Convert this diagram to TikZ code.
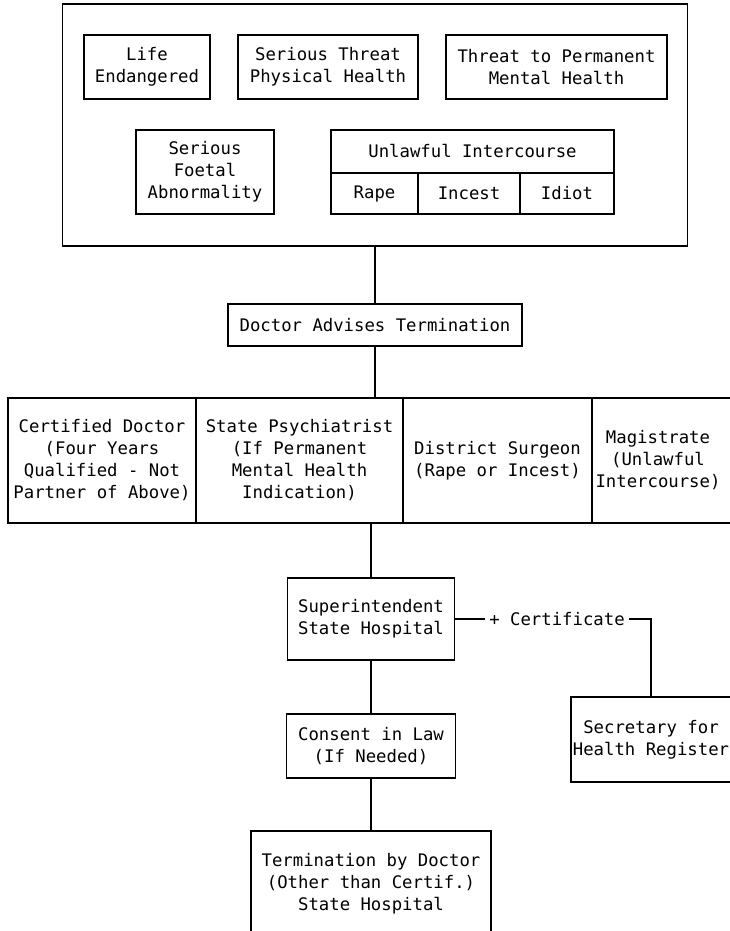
\documentclass[tikz,border=0pt]{standalone}
\usepackage{fontspec}
\newfontfamily\typewriter{DejaVu Sans Mono}

\begin{document}
\begin{tikzpicture}[x=1pt, y=-1pt, line width=1.1pt,
   box/.style = {draw, inner sep=0pt, outer sep=0pt, align=center,
                 font=\typewriter\fontsize{17.3}{22}\selectfont},
   plain/.style = {inner sep=4pt, font=\typewriter\fontsize{17.3}{22}\selectfont}]
   \useasboundingbox (0,0) rectangle (730,931);

   % grounds for termination
   \node[box, minimum width=625, minimum height=242] (grounds) at (375,125) {};
   \node[box, minimum width=126, minimum height=64] (life) at (147,67) {Life\\Endangered};
   \node[box, minimum width=180, minimum height=64] (physical) at (328,67) {Serious Threat\\Physical Health};
   \node[box, minimum width=221, minimum height=64] (mental) at (556.5,67) {Threat to Permanent\\Mental Health};
   \node[box, minimum width=138, minimum height=84] (foetal) at (205,172) {Serious\\Foetal\\Abnormality};
   \node[box, minimum width=283, minimum height=43] (unlawful) at (472.5,151.5) {Unlawful Intercourse};
   \node[box, minimum width=87, minimum height=41] (rape) at (374.5,193.5) {Rape};
   \node[box, minimum width=102, minimum height=41] (incest) at (469,193.5) {Incest};
   \node[box, minimum width=94, minimum height=41] (idiot) at (567,193.5) {Idiot};

   \node[box, minimum width=294, minimum height=42] (advise) at (375,325) {Doctor Advises Termination};

   % second opinions
   \node[box, minimum width=752, minimum height=125] (row) at (384,460.5) {};
   \node[box, minimum width=188, minimum height=125] (certdoc) at (102,460.5)
      {Certified Doctor\\(Four Years\\Qualified - Not\\Partner of Above)};
   \node[box, minimum width=207, minimum height=125] (psych) at (299.5,460.5)
      {State Psychiatrist\\(If Permanent\\Mental Health\\Indication)};
   \node[box, minimum width=189, minimum height=125] (surgeon) at (497.5,460.5)
      {District Surgeon\\(Rape or Incest)};
   \node[plain, align=center] (magis) at (658,460.5) {Magistrate\\(Unlawful\\Intercourse)};

   \node[box, minimum width=167, minimum height=82] (super) at (371,619) {Superintendent\\State Hospital};
   \node[box, minimum width=169, minimum height=64] (consent) at (371,746) {Consent in Law\\(If Needed)};
   \node[box, minimum width=240, minimum height=106] (term) at (371,884)
      {Termination by Doctor\\(Other than Certif.)\\State Hospital};
   \node[box, minimum width=160, minimum height=85] (secr) at (651,739.5) {Secretary for\\Health Register};
   \node[plain] (cert) at (557,619) {+ Certificate};

   \draw (grounds.south) -- (advise.north);
   \draw (advise.south) -- (advise |- row.north);
   \draw (row.south -| super) -- (super.north);
   \draw (super.south) -- (consent.north);
   \draw (consent.south) -- (term.north);
   \draw (super.east) -- (cert.west);
   \draw (cert.east) -| (secr.north);
\end{tikzpicture}
\end{document}
